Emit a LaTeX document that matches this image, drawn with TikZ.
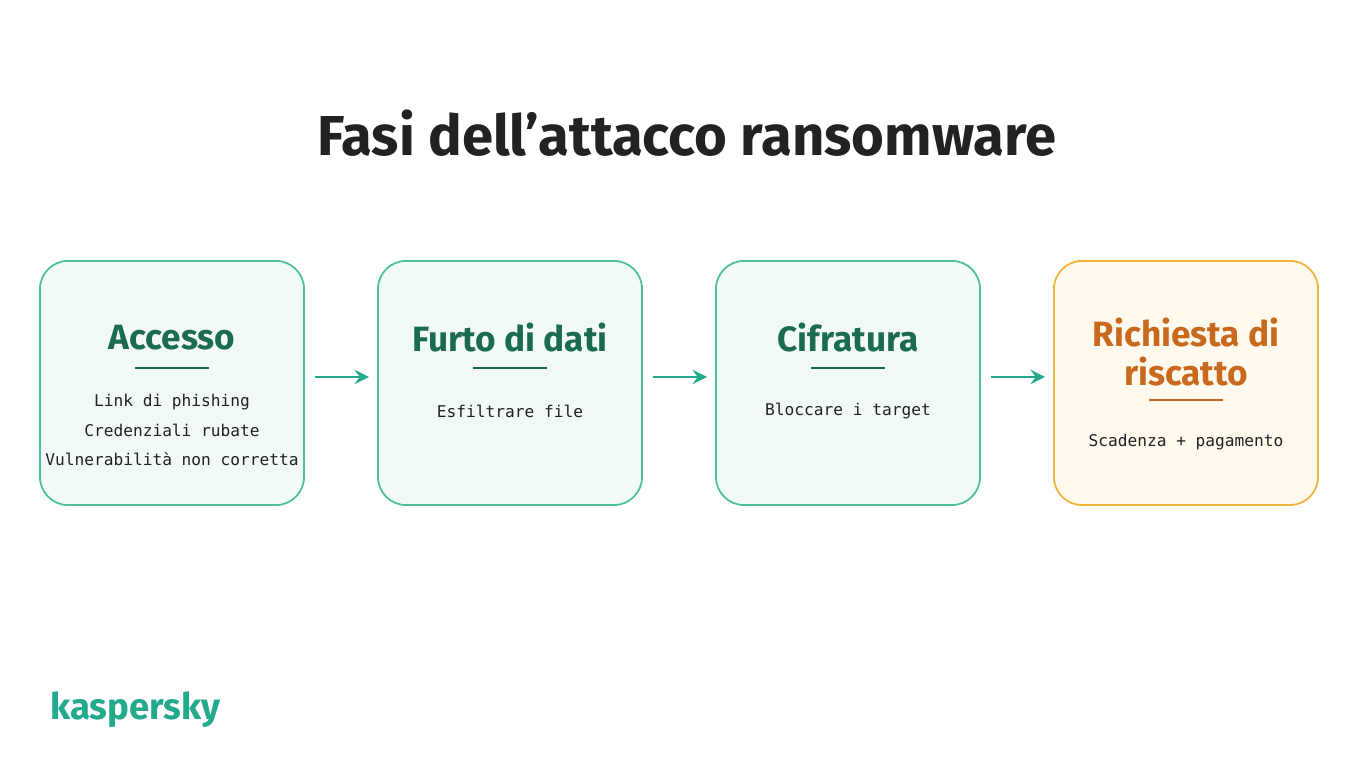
\documentclass[tikz,border=0pt]{standalone}
\usepackage{fontspec}
\setmainfont{Fira Sans}
\newfontfamily\monof{DejaVu Sans Mono}
\usetikzlibrary{positioning}
\definecolor{kgreen}{HTML}{1B6B52}
\definecolor{kteal}{HTML}{23A98C}
\definecolor{kborder}{HTML}{4DBF9F}
\definecolor{kfill}{HTML}{F2FAF8}
\definecolor{korange}{HTML}{C8691E}
\definecolor{koborder}{HTML}{EDB53A}
\definecolor{kofill}{HTML}{FFF9EE}
\definecolor{ktext}{HTML}{222222}
\begin{document}
\begin{tikzpicture}[x=0.01cm,y=0.01cm]
\tikzset{ >=stealth,
  box/.style={draw=kborder, fill=kfill, line width=0.5pt, rounded corners=8pt,
    minimum width=2.64cm, minimum height=2.44cm},
  obox/.style={box, draw=koborder, fill=kofill},
  head/.style={font=\fontsize{10}{11.2}\selectfont\bfseries, text=kgreen, align=center},
  body/.style={font=\monof\fontsize{4.6}{8.5}\selectfont, text=ktext, align=center},
  flow/.style={->, kteal, line width=0.8pt},
}

\fill [white] (0,0) rectangle (1365,768);

\node [font=\fontsize{16}{19}\selectfont\bfseries, text=ktext] (title) at (687,635) {Fasi dell’attacco ransomware};

\node [box]  (acc) at (172,385) {};
\node [box]  (fur) at (510,385) {};
\node [box]  (cif) at (848,385) {};
\node [obox] (ric) at (1186,385) {};

\node [head] (accT) at (172,430) {Accesso};
\node [head] (furT) at (510,430) {Furto di dati};
\node [head] (cifT) at (848,430) {Cifratura};
\node [head, text=korange] (ricT) at (1186,416) {Richiesta di\\riscatto};

\draw [kgreen, line width=0.6pt] (135,400) -- (209,400);
\draw [kgreen, line width=0.6pt] (473,400) -- (547,400);
\draw [kgreen, line width=0.6pt] (811,400) -- (885,400);
\draw [korange, line width=0.6pt] (1149,368) -- (1223,368);

\node [body] (accB) at (172,338) {Link di phishing\\Credenziali rubate\\Vulnerabilità non corretta};
\node [body] (furB) at (510,357) {Esfiltrare file};
\node [body] (cifB) at (848,357) {Bloccare i target};
\node [body] (ricB) at (1186,326) {Scadenza + pagamento};

\draw [flow] (acc.east) ++(10,6) -- ++(54,0);
\draw [flow] (fur.east) ++(10,6) -- ++(54,0);
\draw [flow] (cif.east) ++(10,6) -- ++(54,0);

\node [font=\fontsize{10.4}{12}\selectfont\bfseries, text=kteal, anchor=west] (logo) at (38,58) {kaspersky};
\end{tikzpicture}
\end{document}
